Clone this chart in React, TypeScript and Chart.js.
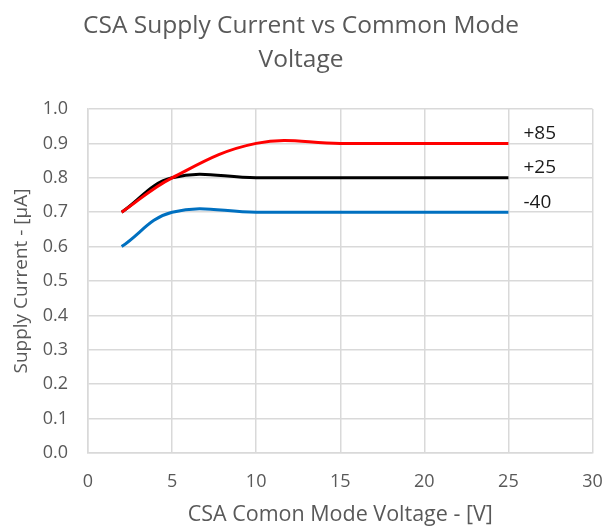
import React, { useEffect, useRef } from "react";
import { Chart, registerables } from "chart.js";

Chart.register(...registerables);

const voltages = [2, 5, 10, 15, 20, 25];
const hot85 = [0.7, 0.8, 0.9, 0.9, 0.9, 0.9];
const room25 = [0.7, 0.8, 0.8, 0.8, 0.8, 0.8];
const cold40 = [0.6, 0.7, 0.7, 0.7, 0.7, 0.7];
const seriesNames = ["+85", "+25", "-40"];
const seriesColors = ["#ff0000", "#000000", "#0070c0"];
const xTicks = [0, 5, 10, 15, 20, 25, 30];
const yTicks = [0, 0.1, 0.2, 0.3, 0.4, 0.5, 0.6, 0.7, 0.8, 0.9, 1.0];

const FONT = '"Open Sans", "Noto Sans", sans-serif';
const GRAY = "#595959";
const GRID = "#d9d9d9";

const seriesLabelPlugin = {
  id: "seriesLabels",
  afterDatasetsDraw(chart: any) {
    const { ctx, scales } = chart;
    const x = scales.x;
    const y = scales.y;
    ctx.save();
    ctx.font = `19px ${FONT}`;
    ctx.fillStyle = "#1a1a1a";
    ctx.textBaseline = "middle";
    ctx.textAlign = "left";
    chart.data.datasets.forEach((ds: any) => {
      const last = ds.data[ds.data.length - 1];
      const px = x.getPixelForValue(last.x) + 15;
      const py = y.getPixelForValue(last.y) - 10;
      ctx.fillText(ds.label, px, py);
    });
    ctx.restore();
  },
};

export default function App() {
  const ref = useRef<HTMLCanvasElement | null>(null);

  useEffect(() => {
    if (!ref.current) return;
    const series = [hot85, room25, cold40];
    const chart = new Chart(ref.current, {
      type: "line",
      data: {
        datasets: series.map((vals, i) => ({
          label: seriesNames[i],
          data: voltages.map((v, j) => ({ x: v, y: vals[j] })),
          borderColor: seriesColors[i],
          backgroundColor: seriesColors[i],
          borderWidth: 3,
          pointRadius: 0,
          tension: 0.4,
          fill: false,
        })),
      },
      options: {
        responsive: false,
        animation: false,
        layout: { padding: { left: 0, right: 4, top: 0, bottom: 0 } },
        plugins: {
          legend: { display: false },
          tooltip: { enabled: false },
          title: {
            display: true,
            text: ["CSA Supply Current vs Common Mode", "Voltage"],
            color: GRAY,
            font: { family: FONT, size: 24.5, weight: "normal", lineHeight: "34px" },
            padding: { top: 9, bottom: 32 },
          },
        },
        scales: {
          x: {
            type: "linear",
            min: 0,
            max: 30,
            afterBuildTicks: (scale: any) => {
              scale.ticks = xTicks.map((v) => ({ value: v }));
            },
            afterFit: (scale: any) => {
              scale.height = 76;
              scale.paddingLeft = 0;
              scale.paddingRight = 13.5;
            },
            ticks: {
              color: GRAY,
              font: { family: FONT, size: 18 },
              padding: 18,
            },
            grid: { color: GRID, lineWidth: 1.5, drawTicks: false },
            border: { color: GRID, width: 1.5 },
            title: {
              display: true,
              text: "CSA Comon Mode Voltage - [V]",
              color: GRAY,
              font: { family: FONT, size: 21.5 },
              padding: { top: 0, bottom: 1 },
            },
          },
          y: {
            type: "linear",
            min: 0,
            max: 1,
            afterBuildTicks: (scale: any) => {
              scale.ticks = yTicks.map((v) => ({ value: v }));
            },
            afterFit: (scale: any) => {
              scale.width = 88;
            },
            ticks: {
              color: GRAY,
              font: { family: FONT, size: 18 },
              padding: 20,
              callback: (v: any) => Number(v).toFixed(1),
            },
            grid: { color: GRID, lineWidth: 1.5, drawTicks: false },
            border: { color: GRID, width: 1.5 },
            title: {
              display: true,
              text: "Supply Current - [µA]",
              color: GRAY,
              font: { family: FONT, size: 19 },
              padding: { top: 10, bottom: 0 },
            },
          },
        },
      },
      plugins: [seriesLabelPlugin],
    } as any);
    return () => chart.destroy();
  }, []);

  return (
    <div style={{ position: "absolute", left: 0, top: 0, width: 606, height: 529, background: "#fff" }}>
      <canvas ref={ref} width={606} height={529} style={{ display: "block" }} />
    </div>
  );
}
